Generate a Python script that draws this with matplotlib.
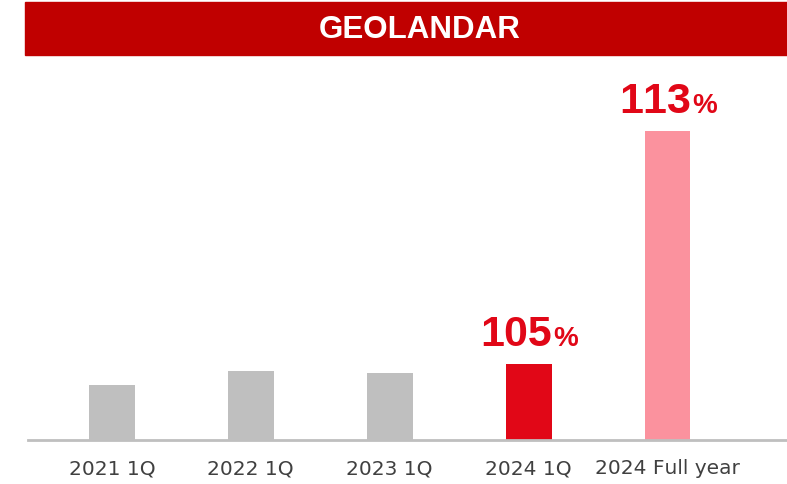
import matplotlib
matplotlib.use("Agg")
import matplotlib.pyplot as plt
from matplotlib.patches import Rectangle
from matplotlib.transforms import offset_copy

plt.rcParams["text.kerning_factor"] = 6

# data (bar heights, arbitrary units)
categories = ["2021 1Q", "2022 1Q", "2023 1Q", "2024 1Q", "2024 Full year"]
values = [55, 69, 67, 76, 309]
bar_colors = ["#BFBFBF", "#BFBFBF", "#BFBFBF", "#E10717", "#FB929E"]
pct_labels = {3: "105", 4: "113"}
title = "GEOLANDAR"

W, H = 787, 485
fig = plt.figure(figsize=(W / 100, H / 100), dpi=100)

# red title banner
fig.patches.append(Rectangle((25 / W, 1 - 56 / H), (W - 25) / W, 53 / H,
                             transform=fig.transFigure, color="#C00000", zorder=0))
fig.text(420 / W, 1 - 30 / H, title, color="white", fontsize=22.5,
         fontweight="bold", family="Liberation Sans", ha="center", va="center")

ax = fig.add_axes([28 / W, 44 / H, (W - 28) / W, (441 - 60) / H])
x = list(range(len(categories)))
ax.bar(x, values, width=0.33, color=bar_colors, zorder=2)
ax.set_xlim(-0.604, 4.86)
ax.set_ylim(0, 381)

for s in ["top", "right", "left"]:
    ax.spines[s].set_visible(False)
ax.spines["bottom"].set_color("#BFBFBF")
ax.spines["bottom"].set_linewidth(2)
ax.set_yticks([])
ax.set_xticks(x)
ax.set_xticklabels(categories, fontsize=14.5, color="#404040", family="DejaVu Sans")
ax.tick_params(axis="x", length=0, pad=13)

# growth labels: big number + smaller percent sign, centred above the bar
fig.canvas.draw()
r = fig.canvas.get_renderer()
red = "#E10717"
for i, num in pct_labels.items():
    t1 = ax.text(i, values[i], num, fontsize=31, fontweight="bold", color=red,
                 family="Liberation Sans", ha="left", va="baseline")
    t2 = ax.text(i, values[i], "%", fontsize=20, fontweight="bold", color=red,
                 family="Liberation Sans", ha="left", va="baseline")
    w1 = t1.get_window_extent(r).width
    w2 = t2.get_window_extent(r).width
    left = -(w1 + w2) / 2
    t1.set_transform(offset_copy(ax.transData, fig=fig, x=left, y=19, units="dots"))
    t2.set_transform(offset_copy(ax.transData, fig=fig, x=left + w1 + 1, y=19, units="dots"))

fig.savefig("out.png", dpi=100)
